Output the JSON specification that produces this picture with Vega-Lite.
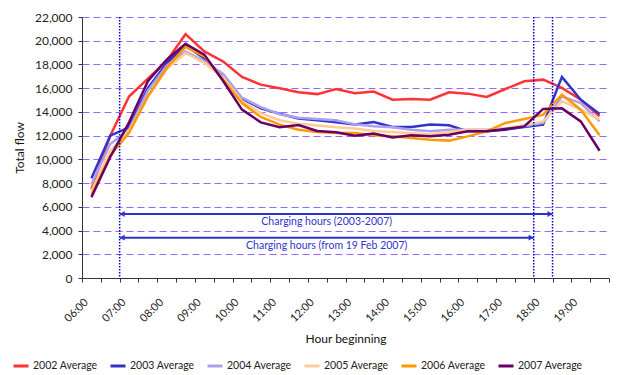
{
  "$schema": "https://vega.github.io/schema/vega-lite/v6.json",
  "width": 527,
  "height": 261,
  "autosize": {"type": "none"},
  "padding": {"left": 82, "top": 17, "right": 22, "bottom": 97},
  "background": "white",
  "config": {"font": "Lato", "view": {"stroke": null}, "axis": {"labelOverlap": false}},
  "datasets": {
    "flows": [
      {"t":6,"series":"2002 Average","flow":7500},{"t":6.5,"series":"2002 Average","flow":12000},{"t":7,"series":"2002 Average","flow":15300},{"t":7.5,"series":"2002 Average","flow":16800},{"t":8,"series":"2002 Average","flow":18300},{"t":8.5,"series":"2002 Average","flow":20550},{"t":9,"series":"2002 Average","flow":19100},{"t":9.5,"series":"2002 Average","flow":18250},{"t":10,"series":"2002 Average","flow":16950},{"t":10.5,"series":"2002 Average","flow":16300},{"t":11,"series":"2002 Average","flow":16000},{"t":11.5,"series":"2002 Average","flow":15650},{"t":12,"series":"2002 Average","flow":15500},{"t":12.5,"series":"2002 Average","flow":15930},{"t":13,"series":"2002 Average","flow":15570},{"t":13.5,"series":"2002 Average","flow":15710},{"t":14,"series":"2002 Average","flow":15030},{"t":14.5,"series":"2002 Average","flow":15090},{"t":15,"series":"2002 Average","flow":15030},{"t":15.5,"series":"2002 Average","flow":15650},{"t":16,"series":"2002 Average","flow":15540},{"t":16.5,"series":"2002 Average","flow":15260},{"t":17,"series":"2002 Average","flow":15930},{"t":17.5,"series":"2002 Average","flow":16580},{"t":18,"series":"2002 Average","flow":16720},{"t":18.5,"series":"2002 Average","flow":16020},{"t":19,"series":"2002 Average","flow":15030},{"t":19.5,"series":"2002 Average","flow":13630},
      {"t":6,"series":"2003 Average","flow":8400},{"t":6.5,"series":"2003 Average","flow":12000},{"t":7,"series":"2003 Average","flow":12700},{"t":7.5,"series":"2003 Average","flow":16000},{"t":8,"series":"2003 Average","flow":18100},{"t":8.5,"series":"2003 Average","flow":19600},{"t":9,"series":"2003 Average","flow":18500},{"t":9.5,"series":"2003 Average","flow":17000},{"t":10,"series":"2003 Average","flow":15100},{"t":10.5,"series":"2003 Average","flow":14300},{"t":11,"series":"2003 Average","flow":13850},{"t":11.5,"series":"2003 Average","flow":13450},{"t":12,"series":"2003 Average","flow":13300},{"t":12.5,"series":"2003 Average","flow":13120},{"t":13,"series":"2003 Average","flow":12930},{"t":13.5,"series":"2003 Average","flow":13150},{"t":14,"series":"2003 Average","flow":12730},{"t":14.5,"series":"2003 Average","flow":12730},{"t":15,"series":"2003 Average","flow":12930},{"t":15.5,"series":"2003 Average","flow":12880},{"t":16,"series":"2003 Average","flow":12360},{"t":16.5,"series":"2003 Average","flow":12360},{"t":17,"series":"2003 Average","flow":12500},{"t":17.5,"series":"2003 Average","flow":12730},{"t":18,"series":"2003 Average","flow":12930},{"t":18.5,"series":"2003 Average","flow":16950},{"t":19,"series":"2003 Average","flow":15030},{"t":19.5,"series":"2003 Average","flow":13830},
      {"t":6,"series":"2004 Average","flow":7900},{"t":6.5,"series":"2004 Average","flow":11300},{"t":7,"series":"2004 Average","flow":12500},{"t":7.5,"series":"2004 Average","flow":15800},{"t":8,"series":"2004 Average","flow":17900},{"t":8.5,"series":"2004 Average","flow":19100},{"t":9,"series":"2004 Average","flow":18270},{"t":9.5,"series":"2004 Average","flow":17200},{"t":10,"series":"2004 Average","flow":15200},{"t":10.5,"series":"2004 Average","flow":14400},{"t":11,"series":"2004 Average","flow":13800},{"t":11.5,"series":"2004 Average","flow":13500},{"t":12,"series":"2004 Average","flow":13400},{"t":12.5,"series":"2004 Average","flow":13300},{"t":13,"series":"2004 Average","flow":12950},{"t":13.5,"series":"2004 Average","flow":12800},{"t":14,"series":"2004 Average","flow":12700},{"t":14.5,"series":"2004 Average","flow":12500},{"t":15,"series":"2004 Average","flow":12360},{"t":15.5,"series":"2004 Average","flow":12500},{"t":16,"series":"2004 Average","flow":12500},{"t":16.5,"series":"2004 Average","flow":12500},{"t":17,"series":"2004 Average","flow":12600},{"t":17.5,"series":"2004 Average","flow":12800},{"t":18,"series":"2004 Average","flow":13070},{"t":18.5,"series":"2004 Average","flow":15310},{"t":19,"series":"2004 Average","flow":14750},{"t":19.5,"series":"2004 Average","flow":13200},
      {"t":6,"series":"2005 Average","flow":7300},{"t":6.5,"series":"2005 Average","flow":10700},{"t":7,"series":"2005 Average","flow":12400},{"t":7.5,"series":"2005 Average","flow":15300},{"t":8,"series":"2005 Average","flow":17600},{"t":8.5,"series":"2005 Average","flow":18970},{"t":9,"series":"2005 Average","flow":18130},{"t":9.5,"series":"2005 Average","flow":16900},{"t":10,"series":"2005 Average","flow":14900},{"t":10.5,"series":"2005 Average","flow":13900},{"t":11,"series":"2005 Average","flow":13300},{"t":11.5,"series":"2005 Average","flow":13000},{"t":12,"series":"2005 Average","flow":12850},{"t":12.5,"series":"2005 Average","flow":12700},{"t":13,"series":"2005 Average","flow":12600},{"t":13.5,"series":"2005 Average","flow":12400},{"t":14,"series":"2005 Average","flow":12300},{"t":14.5,"series":"2005 Average","flow":12200},{"t":15,"series":"2005 Average","flow":12100},{"t":15.5,"series":"2005 Average","flow":12300},{"t":16,"series":"2005 Average","flow":12500},{"t":16.5,"series":"2005 Average","flow":12450},{"t":17,"series":"2005 Average","flow":12600},{"t":17.5,"series":"2005 Average","flow":12900},{"t":18,"series":"2005 Average","flow":13200},{"t":18.5,"series":"2005 Average","flow":14890},{"t":19,"series":"2005 Average","flow":14190},{"t":19.5,"series":"2005 Average","flow":13350},
      {"t":6,"series":"2006 Average","flow":7000},{"t":6.5,"series":"2006 Average","flow":10300},{"t":7,"series":"2006 Average","flow":12230},{"t":7.5,"series":"2006 Average","flow":15310},{"t":8,"series":"2006 Average","flow":17700},{"t":8.5,"series":"2006 Average","flow":19480},{"t":9,"series":"2006 Average","flow":18690},{"t":9.5,"series":"2006 Average","flow":16700},{"t":10,"series":"2006 Average","flow":14750},{"t":10.5,"series":"2006 Average","flow":13570},{"t":11,"series":"2006 Average","flow":12930},{"t":11.5,"series":"2006 Average","flow":12500},{"t":12,"series":"2006 Average","flow":12300},{"t":12.5,"series":"2006 Average","flow":12230},{"t":13,"series":"2006 Average","flow":12230},{"t":13.5,"series":"2006 Average","flow":12030},{"t":14,"series":"2006 Average","flow":11940},{"t":14.5,"series":"2006 Average","flow":11800},{"t":15,"series":"2006 Average","flow":11660},{"t":15.5,"series":"2006 Average","flow":11580},{"t":16,"series":"2006 Average","flow":11940},{"t":16.5,"series":"2006 Average","flow":12360},{"t":17,"series":"2006 Average","flow":13070},{"t":17.5,"series":"2006 Average","flow":13400},{"t":18,"series":"2006 Average","flow":13770},{"t":18.5,"series":"2006 Average","flow":15450},{"t":19,"series":"2006 Average","flow":14190},{"t":19.5,"series":"2006 Average","flow":12030},
      {"t":6,"series":"2007 Average","flow":6800},{"t":6.5,"series":"2007 Average","flow":10200},{"t":7,"series":"2007 Average","flow":13120},{"t":7.5,"series":"2007 Average","flow":16580},{"t":8,"series":"2007 Average","flow":18400},{"t":8.5,"series":"2007 Average","flow":19750},{"t":9,"series":"2007 Average","flow":18830},{"t":9.5,"series":"2007 Average","flow":16600},{"t":10,"series":"2007 Average","flow":14190},{"t":10.5,"series":"2007 Average","flow":13120},{"t":11,"series":"2007 Average","flow":12700},{"t":11.5,"series":"2007 Average","flow":12900},{"t":12,"series":"2007 Average","flow":12400},{"t":12.5,"series":"2007 Average","flow":12280},{"t":13,"series":"2007 Average","flow":12000},{"t":13.5,"series":"2007 Average","flow":12170},{"t":14,"series":"2007 Average","flow":11850},{"t":14.5,"series":"2007 Average","flow":12030},{"t":15,"series":"2007 Average","flow":11940},{"t":15.5,"series":"2007 Average","flow":12080},{"t":16,"series":"2007 Average","flow":12360},{"t":16.5,"series":"2007 Average","flow":12360},{"t":17,"series":"2007 Average","flow":12560},{"t":17.5,"series":"2007 Average","flow":12780},{"t":18,"series":"2007 Average","flow":14250},{"t":18.5,"series":"2007 Average","flow":14300},{"t":19,"series":"2007 Average","flow":13200},{"t":19.5,"series":"2007 Average","flow":10730}
    ],
    "markers": [{"t": 6.75}, {"t": 17.75}, {"t": 18.25}],
    "arrows": [
      {"label": "Charging hours (2003-2007)", "from": 6.75, "to": 18.25, "level": 5400, "mid": 12.25, "textLevel": 4750},
      {"label": "Charging hours (from 19 Feb 2007)", "from": 6.75, "to": 17.75, "level": 3400, "mid": 12.25, "textLevel": 2720}
    ]
  },
  "layer": [
    {
      "data": {"name": "flows"},
      "mark": {"type": "line", "strokeWidth": 2.5, "strokeJoin": "miter"},
      "encoding": {
        "x": {
          "field": "t", "type": "quantitative",
          "scale": {"domain": [5.75, 19.75], "nice": false, "zero": false},
          "axis": {
            "values": [5.75,6.25,6.75,7.25,7.75,8.25,8.75,9.25,9.75,10.25,10.75,11.25,11.75,12.25,12.75,13.25,13.75,14.25,14.75,15.25,15.75,16.25,16.75,17.25,17.75,18.25,18.75,19.25,19.75],
            "tickCount": 40,
            "labelExpr": "(datum.value - 5.75) % 1 == 0 && datum.value < 19.5 ? ((floor(datum.value + 0.25) < 10 ? '0' : '') + floor(datum.value + 0.25) + ':00') : ''",
            "labelAngle": -45, "labelOffset": 0, "labelPadding": 14,
            "labelFontSize": 11, "labelColor": "#222",
            "labelOverlap": false, "labelBound": false, "labelFlush": false,
            "tickSize": 4, "tickColor": "#333", "domainColor": "#333", "grid": false,
            "title": "Hour beginning", "titleFontSize": 12, "titleFontWeight": "normal", "titleColor": "#111",
            "titleY": 64, "titleBaseline": "alphabetic"
          }
        },
        "y": {
          "field": "flow", "type": "quantitative",
          "scale": {"domain": [0, 22000], "nice": false},
          "axis": {
            "values": [0,2000,4000,6000,8000,10000,12000,14000,16000,18000,20000,22000],
            "tickCount": 20,
            "labelExpr": "format(datum.value, ',')",
            "labelOverlap": false, "labelFontSize": 12, "labelColor": "#222", "labelPadding": 6,
            "tickSize": 4, "tickColor": "#333", "domainColor": "#333",
            "grid": true, "gridColor": "#9966ff", "gridDash": [7, 4], "gridWidth": 1,
            "title": "Total flow", "titleFontSize": 12, "titleFontWeight": "normal", "titleColor": "#111",
            "titleX": -56
          }
        },
        "color": {
          "field": "series", "type": "nominal",
          "scale": {
            "domain": ["2002 Average","2003 Average","2004 Average","2005 Average","2006 Average","2007 Average"],
            "range": ["#ff3333","#3333cc","#aaa0ee","#ffcc99","#ff9900","#660066"]
          },
          "legend": {
            "title": null, "orient": "none", "legendX": -70, "legendY": 340,
            "direction": "horizontal", "columns": 6,
            "symbolType": "stroke", "symbolStrokeWidth": 3, "symbolSize": 225,
            "labelFontSize": 10.5, "labelColor": "#222", "labelOffset": 3, "columnPadding": 6
          }
        }
      }
    },
    {
      "data": {"name": "markers"},
      "mark": {"type": "rule", "color": "#0000cc", "strokeDash": [1.5, 1.5], "strokeWidth": 1.5},
      "encoding": {"x": {"field": "t", "type": "quantitative"}}
    },
    {
      "data": {"name": "arrows"},
      "mark": {"type": "rule", "color": "#3333cc", "strokeWidth": 2},
      "encoding": {
        "x": {"field": "from", "type": "quantitative"},
        "x2": {"field": "to"},
        "y": {"field": "level", "type": "quantitative"}
      }
    },
    {
      "data": {"name": "arrows"},
      "mark": {"type": "point", "shape": "triangle-left", "filled": true, "color": "#3333cc", "size": 35, "opacity": 1, "xOffset": 2.5},
      "encoding": {
        "x": {"field": "from", "type": "quantitative"},
        "y": {"field": "level", "type": "quantitative"}
      }
    },
    {
      "data": {"name": "arrows"},
      "mark": {"type": "point", "shape": "triangle-right", "filled": true, "color": "#3333cc", "size": 35, "opacity": 1, "xOffset": -2.5},
      "encoding": {
        "x": {"field": "to", "type": "quantitative"},
        "y": {"field": "level", "type": "quantitative"}
      }
    },
    {
      "data": {"name": "arrows"},
      "mark": {"type": "text", "color": "#3333cc", "fontSize": 10.5, "baseline": "middle", "align": "center"},
      "encoding": {
        "x": {"field": "mid", "type": "quantitative"},
        "y": {"field": "textLevel", "type": "quantitative"},
        "text": {"field": "label"}
      }
    }
  ]
}
